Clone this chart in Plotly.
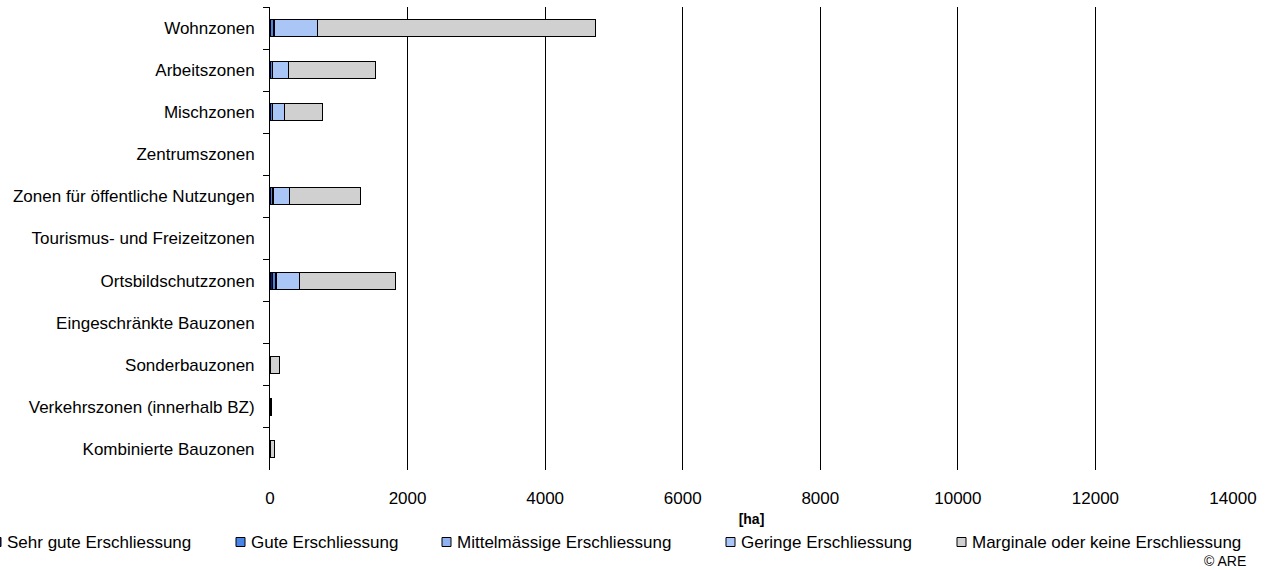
import plotly.graph_objects as go

# Bauzonen nach Erschliessungsgüte [ha]
zones = [
    "Wohnzonen",
    "Arbeitszonen",
    "Mischzonen",
    "Zentrumszonen",
    "Zonen für öffentliche Nutzungen",
    "Tourismus- und Freizeitzonen",
    "Ortsbildschutzzonen",
    "Eingeschränkte Bauzonen",
    "Sonderbauzonen",
    "Verkehrszonen (innerhalb BZ)",
    "Kombinierte Bauzonen",
]

sehr_gut = [5, 3, 5, 0, 4, 0, 30, 0, 0, 22, 0]
gut = [45, 30, 28, 0, 32, 0, 48, 0, 0, 0, 0]
mittel = [10, 8, 6, 0, 10, 0, 10, 0, 0, 0, 0]
gering = [625, 225, 165, 0, 235, 0, 348, 0, 3, 0, 3]
marginal = [4043, 1261, 563, 0, 1028, 0, 1392, 0, 130, 0, 62]

x_ticks = [0, 2000, 4000, 6000, 8000, 10000, 12000, 14000]

series = [
    ("Sehr gute Erschliessung", sehr_gut, "#0a1a66"),
    ("Gute Erschliessung", gut, "#4a84e6"),
    ("Mittelmässige Erschliessung", mittel, "#8fb2f0"),
    ("Geringe Erschliessung", gering, "#aac6f6"),
    ("Marginale oder keine Erschliessung", marginal, "#d0d0d0"),
]

W, H = 1274, 570
L, R, T, B = 270, 41, 7, 100
font = "Arial, Liberation Sans, sans-serif"


def px_x(p):
    return (p - L) / (W - L - R)


def px_y(p):
    return (H - B - p) / (H - T - B)


fig = go.Figure()
for name, vals, col in series:
    fig.add_trace(go.Bar(
        y=zones, x=[v if v else None for v in vals], name=name,
        orientation="h", showlegend=False,
        marker=dict(color=col, line=dict(color="black", width=1)),
    ))

fig.update_layout(
    width=W, height=H,
    barmode="stack", bargap=0.6,
    plot_bgcolor="white", paper_bgcolor="white",
    margin=dict(l=L, r=R, t=T, b=B),
    font=dict(family=font, size=17, color="black"),
)

fig.update_xaxes(
    range=[0, 14000], tickvals=x_ticks, tickformat="d",
    showgrid=True, gridcolor="black", gridwidth=1,
    showline=False, zeroline=False, ticks="",
    ticklabelstandoff=16,
    title=dict(text="<b>[ha]</b>", font=dict(size=14), standoff=7),
)
fig.update_yaxes(
    autorange="reversed", showline=True, linecolor="black", linewidth=1,
    ticks="outside", tickson="boundaries", ticklen=6, tickcolor="black",
    showgrid=False, ticklabelstandoff=11,
)

# legend row below the axis, Excel style
legend_y = 542
marker_left = [-8, 236, 442, 726, 957]
for (name, vals, col), mx in zip(series, marker_left):
    fig.add_shape(
        type="rect", xref="paper", yref="paper",
        x0=px_x(mx), x1=px_x(mx + 9),
        y0=px_y(legend_y + 4.5), y1=px_y(legend_y - 4.5),
        fillcolor=col, line=dict(color="black", width=1),
    )
    fig.add_annotation(
        text=name, xref="paper", yref="paper",
        x=px_x(mx + 13), y=px_y(legend_y),
        xanchor="left", yanchor="middle", showarrow=False,
        font=dict(size=17),
    )

fig.add_annotation(
    text="© ARE", xref="paper", yref="paper", x=px_x(1248), y=px_y(561),
    xanchor="right", yanchor="middle", showarrow=False,
    font=dict(size=14),
)

fig.write_html(
    "out.html",
    config={"displayModeBar": False},
    post_script="document.body.style.margin='0';",
)
